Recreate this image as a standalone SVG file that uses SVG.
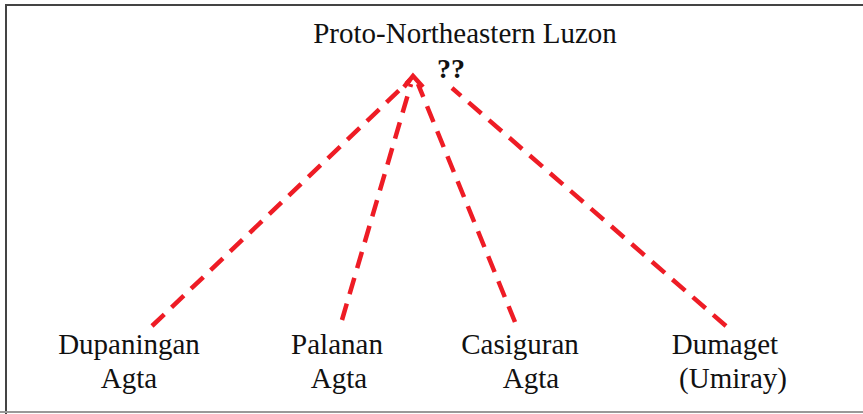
<svg xmlns="http://www.w3.org/2000/svg" width="863" height="414" viewBox="0 0 863 414">
<style>
text{font-family:'Liberation Serif','Times New Roman',Times,serif;font-size:29px;fill:#111;text-anchor:middle}
.q{font-weight:bold;font-size:28px}
.c{fill:none;stroke:#ee1c25;stroke-width:4.5;stroke-dasharray:17 10}
.h{fill:none;stroke:#ee1c25;stroke-width:4.5}
</style>
<rect width="863" height="414" fill="#fff"/>
<path d="M6,414 V5 H863" fill="none" stroke="#444" stroke-width="2"/>
<path d="M0,412 H863" fill="none" stroke="#999" stroke-width="2"/>
<g id="root" font-family="Liberation Serif, serif">
<text x="465" y="43">Proto-Northeastern Luzon</text>
<text class="q" x="451" y="78">??</text>
</g>
<g id="connectors">
<line class="c" x1="152" y1="326" x2="410" y2="80"/>
<line class="c" x1="342" y1="320" x2="411" y2="84"/>
<line class="c" x1="515" y1="322" x2="418" y2="84"/>
<line class="c" x1="726" y1="326" x2="452" y2="88"/>
<polyline class="h" points="404,87 413,76 423,87"/>
</g>
<g id="dupaningan" font-family="Liberation Serif, serif"><text x="129" y="354">Dupaningan</text><text x="129" y="388">Agta</text></g>
<g id="palanan" font-family="Liberation Serif, serif"><text x="337" y="354">Palanan</text><text x="339" y="388">Agta</text></g>
<g id="casiguran" font-family="Liberation Serif, serif"><text x="520" y="354">Casiguran</text><text x="531" y="388">Agta</text></g>
<g id="dumaget" font-family="Liberation Serif, serif"><text x="725" y="354">Dumaget</text><text x="733" y="388">(Umiray)</text></g>
</svg>
